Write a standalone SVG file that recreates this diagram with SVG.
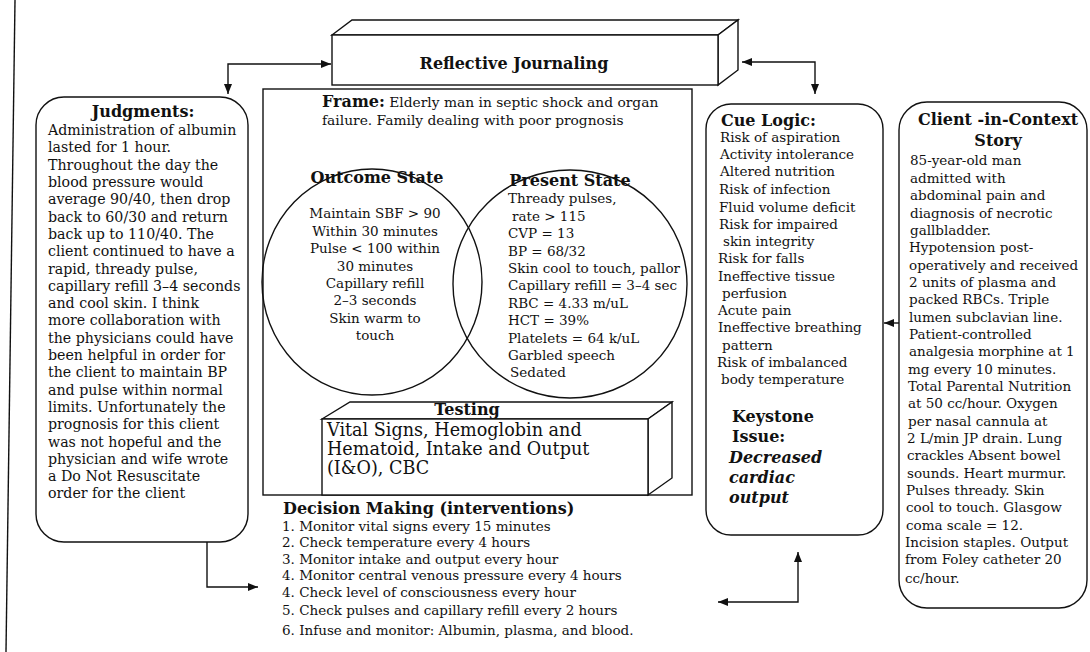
<svg xmlns="http://www.w3.org/2000/svg" width="1090" height="652" viewBox="0 0 1090 652">
<style>
  .ln{fill:none;stroke:#111;stroke-width:1.4}
  .box{fill:#fff;stroke:#111;stroke-width:1.4}
  .t{font-family:"DejaVu Serif","Liberation Serif",serif;font-size:13.5px;fill:#111}
  .j{font-size:14.2px}
  .b{font-family:"DejaVu Serif","Liberation Serif",serif;font-weight:bold;font-size:16px;fill:#111}
  .c{text-anchor:middle}
  .bi{font-family:"DejaVu Serif","Liberation Serif",serif;font-weight:bold;font-style:italic;font-size:16px;fill:#111}
  .lg{font-family:"DejaVu Serif","Liberation Serif",serif;font-size:17.6px;fill:#111}
</style>
<defs>
  <marker id="ah" viewBox="0 0 10 8" refX="10" refY="4" markerWidth="10" markerHeight="8" markerUnits="userSpaceOnUse" orient="auto-start-reverse">
    <path d="M0,0 L10,4 L0,8 Z" fill="#111"/>
  </marker>
</defs>
<rect width="1090" height="652" fill="#fff"/>

<g id="page-border">
  <line class="ln" x1="15" y1="0" x2="6" y2="652"/>
</g>

<g id="connectors">
  <path class="ln" d="M228,94 L228,64 L331,64" marker-start="url(#ah)" marker-end="url(#ah)"/>
  <path class="ln" d="M815,94 L815,62 L742,62" marker-start="url(#ah)" marker-end="url(#ah)"/>
  <path class="ln" d="M207,542 L207,587 L258,587" marker-end="url(#ah)"/>
  <path class="ln" d="M718,602 L798,602 L798,552" marker-start="url(#ah)" marker-end="url(#ah)"/>
  <path class="ln" d="M899,323 L884,323" marker-end="url(#ah)"/>
</g>

<g id="reflective-journaling">
  <polygon class="box" points="332,35 352,20 738,20 718,35"/>
  <polygon class="box" points="718,35 738,20 738,70 718,85"/>
  <rect class="box" x="332" y="35" width="386" height="50"/>
  <text class="b c" x="514" y="69">Reflective Journaling</text>
</g>

<g id="frame">
  <rect class="box" x="263" y="89" width="429" height="406"/>
  <text class="t" x="322" y="107" style="font-size:13.8px"><tspan class="b" style="font-size:16px">Frame:</tspan> Elderly man in septic shock and organ</text>
  <text class="t" x="322" y="125" style="font-size:13.8px">failure. Family dealing with poor prognosis</text>
</g>

<g id="outcome-state">
  <ellipse class="ln" cx="372" cy="282" rx="110" ry="113"/>
  <text class="b c" x="377" y="183">Outcome State</text>
  <text class="t c" x="375" y="218">Maintain SBF &gt; 90</text>
  <text class="t c" x="375" y="236">Within 30 minutes</text>
  <text class="t c" x="375" y="253">Pulse &lt; 100 within</text>
  <text class="t c" x="375" y="271">30 minutes</text>
  <text class="t c" x="375" y="288">Capillary refill</text>
  <text class="t c" x="375" y="305">2–3 seconds</text>
  <text class="t c" x="375" y="323">Skin warm to</text>
  <text class="t c" x="375" y="340">touch</text>
</g>

<g id="present-state">
  <ellipse class="ln" cx="570" cy="284" rx="117" ry="114"/>
  <text class="b c" x="570" y="186">Present State</text>
  <text class="t" x="508" y="203">Thready pulses,</text>
  <text class="t" x="512" y="221">rate &gt; 115</text>
  <text class="t" x="508" y="238">CVP = 13</text>
  <text class="t" x="508" y="256">BP = 68/32</text>
  <text class="t" x="508" y="273">Skin cool to touch, pallor</text>
  <text class="t" x="508" y="290">Capillary refill = 3–4 sec</text>
  <text class="t" x="508" y="308">RBC = 4.33 m/uL</text>
  <text class="t" x="508" y="325">HCT = 39%</text>
  <text class="t" x="508" y="343">Platelets = 64 k/uL</text>
  <text class="t" x="508" y="360">Garbled speech</text>
  <text class="t" x="510" y="377">Sedated</text>
</g>

<g id="testing">
  <polygon class="box" points="322,419 350,402 672,402 648,419"/>
  <polygon class="box" points="648,419 672,402 672,478 648,495"/>
  <rect class="box" x="322" y="419" width="326" height="76"/>
  <text class="b c" x="467" y="415">Testing</text>
  <text class="lg" x="327" y="436">Vital Signs, Hemoglobin and</text>
  <text class="lg" x="327" y="455">Hematoid, Intake and Output</text>
  <text class="lg" x="327" y="474">(I&amp;O), CBC</text>
</g>

<g id="judgments">
  <rect class="box" x="36" y="97" width="212" height="445" rx="28" ry="28"/>
  <text class="b c" x="143" y="117">Judgments:</text>
  <text class="t j" x="48" y="135">Administration of albumin</text>
  <text class="t j" x="48" y="152">lasted for 1 hour.</text>
  <text class="t j" x="48" y="170">Throughout the day the</text>
  <text class="t j" x="48" y="187">blood pressure would</text>
  <text class="t j" x="48" y="204">average 90/40, then drop</text>
  <text class="t j" x="48" y="222">back to 60/30 and return</text>
  <text class="t j" x="48" y="239">back up to 110/40. The</text>
  <text class="t j" x="48" y="256">client continued to have a</text>
  <text class="t j" x="48" y="274">rapid, thready pulse,</text>
  <text class="t j" x="48" y="291">capillary refill 3–4 seconds</text>
  <text class="t j" x="48" y="308">and cool skin. I think</text>
  <text class="t j" x="48" y="325">more collaboration with</text>
  <text class="t j" x="48" y="343">the physicians could have</text>
  <text class="t j" x="48" y="360">been helpful in order for</text>
  <text class="t j" x="48" y="377">the client to maintain BP</text>
  <text class="t j" x="48" y="395">and pulse within normal</text>
  <text class="t j" x="48" y="412">limits. Unfortunately the</text>
  <text class="t j" x="48" y="429">prognosis for this client</text>
  <text class="t j" x="48" y="447">was not hopeful and the</text>
  <text class="t j" x="48" y="464">physician and wife wrote</text>
  <text class="t j" x="48" y="481">a Do Not Resuscitate</text>
  <text class="t j" x="48" y="498">order for the client</text>
</g>

<g id="decision-making">
  <text class="b" x="283" y="514">Decision Making (interventions)</text>
  <text class="t" x="282" y="531">1. Monitor vital signs every 15 minutes</text>
  <text class="t" x="282" y="547">2. Check temperature every 4 hours</text>
  <text class="t" x="282" y="564">3. Monitor intake and output every hour</text>
  <text class="t" x="282" y="580">4. Monitor central venous pressure every 4 hours</text>
  <text class="t" x="282" y="597">4. Check level of consciousness every hour</text>
  <text class="t" x="282" y="615">5. Check pulses and capillary refill every 2 hours</text>
  <text class="t" x="282" y="635">6. Infuse and monitor: Albumin, plasma, and blood.</text>
</g>

<g id="cue-logic">
  <rect class="box" x="706" y="104" width="177" height="431" rx="25" ry="25"/>
  <text class="b" x="721" y="126">Cue Logic:</text>
  <text class="t" x="720" y="142">Risk of aspiration</text>
  <text class="t" x="720" y="159">Activity intolerance</text>
  <text class="t" x="720" y="176">Altered nutrition</text>
  <text class="t" x="719" y="194">Risk of infection</text>
  <text class="t" x="719" y="212">Fluid volume deficit</text>
  <text class="t" x="719" y="229">Risk for impaired</text>
  <text class="t" x="723" y="246">skin integrity</text>
  <text class="t" x="718" y="263">Risk for falls</text>
  <text class="t" x="718" y="281">Ineffective tissue</text>
  <text class="t" x="722" y="298">perfusion</text>
  <text class="t" x="718" y="315">Acute pain</text>
  <text class="t" x="718" y="332">Ineffective breathing</text>
  <text class="t" x="722" y="350">pattern</text>
  <text class="t" x="717" y="367">Risk of imbalanced</text>
  <text class="t" x="721" y="384">body temperature</text>
  <text class="b" x="732" y="422">Keystone</text>
  <text class="b" x="732" y="442">Issue:</text>
  <text class="bi" x="729" y="463">Decreased</text>
  <text class="bi" x="729" y="483">cardiac</text>
  <text class="bi" x="729" y="503">output</text>
</g>

<g id="client-story">
  <rect class="box" x="899" y="102" width="188" height="506" rx="28" ry="28"/>
  <text class="b c" x="998" y="125">Client -in-Context</text>
  <text class="b c" x="998" y="146">Story</text>
  <text class="t" x="910" y="165">85-year-old man</text>
  <text class="t" x="910" y="183">admitted with</text>
  <text class="t" x="910" y="200">abdominal pain and</text>
  <text class="t" x="910" y="218">diagnosis of necrotic</text>
  <text class="t" x="910" y="235">gallbladder.</text>
  <text class="t" x="909" y="252">Hypotension post-</text>
  <text class="t" x="909" y="270">operatively and received</text>
  <text class="t" x="909" y="287">2 units of plasma and</text>
  <text class="t" x="909" y="304">packed RBCs. Triple</text>
  <text class="t" x="909" y="322">lumen subclavian line.</text>
  <text class="t" x="909" y="339">Patient-controlled</text>
  <text class="t" x="909" y="356">analgesia  morphine at 1</text>
  <text class="t" x="908" y="374">mg every 10 minutes.</text>
  <text class="t" x="908" y="391">Total Parental Nutrition</text>
  <text class="t" x="908" y="408">at 50 cc/hour. Oxygen</text>
  <text class="t" x="908" y="426">per nasal cannula at</text>
  <text class="t" x="907" y="443">2 L/min JP drain. Lung</text>
  <text class="t" x="907" y="460">crackles Absent bowel</text>
  <text class="t" x="907" y="478">sounds. Heart murmur.</text>
  <text class="t" x="906" y="495">Pulses thready. Skin</text>
  <text class="t" x="906" y="512">cool to touch. Glasgow</text>
  <text class="t" x="906" y="530">coma scale = 12.</text>
  <text class="t" x="905" y="547">Incision staples. Output</text>
  <text class="t" x="905" y="564">from Foley catheter 20</text>
  <text class="t" x="905" y="583">cc/hour.</text>
</g>
</svg>
